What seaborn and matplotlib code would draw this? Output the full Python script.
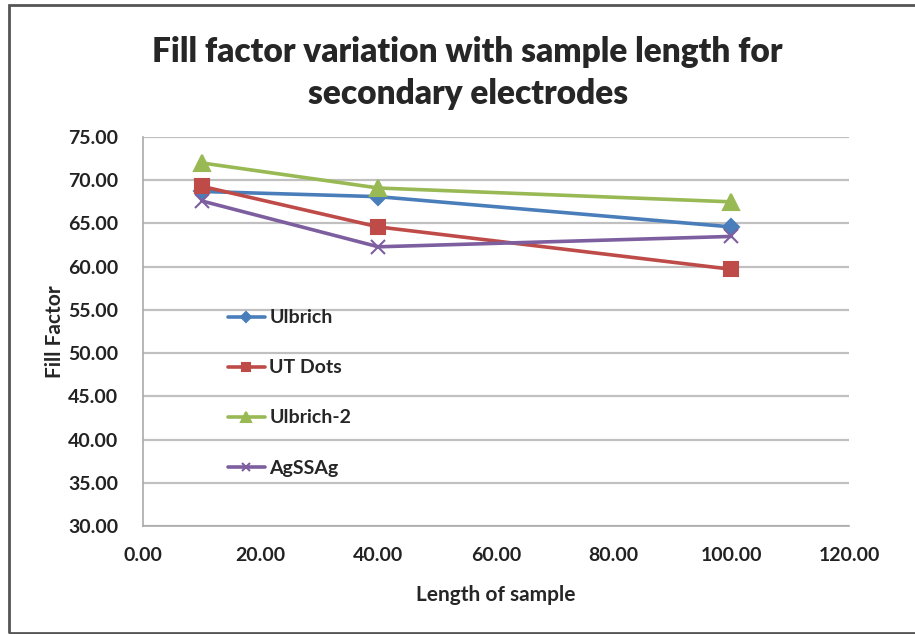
import numpy as np
import pandas as pd
import matplotlib
matplotlib.use('Agg')
import matplotlib.pyplot as plt
import seaborn as sns
from matplotlib.patches import Rectangle

# 데이터
lengths = [10, 40, 100]
ulbrich = [68.7, 68.1, 64.6]
ut_dots = [69.3, 64.6, 59.7]
ulbrich2 = [72.0, 69.1, 67.5]
agssag = [67.6, 62.3, 63.5]
series_names = ['Ulbrich', 'UT Dots', 'Ulbrich-2', 'AgSSAg']
x_ticks = [0, 20, 40, 60, 80, 100, 120]
y_ticks = [30, 35, 40, 45, 50, 55, 60, 65, 70, 75]

df = pd.DataFrame({
    'length': lengths * 4,
    'ff': ulbrich + ut_dots + ulbrich2 + agssag,
    'series': [n for n in series_names for _ in lengths],
})

sns.set_style('white')
plt.rcParams['font.family'] = ['Lato', 'DejaVu Sans']
plt.rcParams['font.weight'] = 'bold'

palette = {'Ulbrich': '#4a7ebb', 'UT Dots': '#be4b48', 'Ulbrich-2': '#98b954', 'AgSSAg': '#7d5fa0'}
markers = {'Ulbrich': 'D', 'UT Dots': 's', 'Ulbrich-2': '^', 'AgSSAg': 'x'}
msizes = {'Ulbrich': 8, 'UT Dots': 10, 'Ulbrich-2': 11, 'AgSSAg': 10}

fig = plt.figure(figsize=(9.15, 6.34), dpi=100)
ax = fig.add_axes([0.1563, 0.1703, 0.7716, 0.6136])

for name in series_names:
    sub = df[df['series'] == name]
    sns.lineplot(data=sub, x='length', y='ff', ax=ax, color=palette[name],
                 marker=markers[name], markersize=msizes[name], linewidth=2.6,
                 markeredgewidth=1.5, markeredgecolor=palette[name], label=name)

ax.set_xlim(0, 120)
ax.set_ylim(30, 75)
ax.set_xticks(x_ticks)
ax.set_yticks(y_ticks)
ax.set_xticklabels([f'{v:.2f}' for v in x_ticks], fontsize=14, fontweight='bold', color='#222222')
ax.set_yticklabels([f'{v:.2f}' for v in y_ticks], fontsize=14, fontweight='bold', color='#222222')
ax.yaxis.grid(True, color='#c0c0c0', linewidth=1.6)
ax.set_axisbelow(True)
for s in ['top', 'right']:
    ax.spines[s].set_visible(False)
for s in ['left', 'bottom']:
    ax.spines[s].set_color('#aaaaaa')
    ax.spines[s].set_linewidth(1.2)
ax.tick_params(axis='both', length=6, width=1.2, color='#aaaaaa')
ax.tick_params(axis='y', pad=12)
ax.tick_params(axis='x', pad=9)

ax.set_xlabel('Length of sample', fontsize=15, fontweight='bold', labelpad=15)
ax.set_ylabel('Fill Factor', fontsize=15, fontweight='bold', labelpad=2)

fig.text(0.511, 0.918, 'Fill factor variation with sample length for', ha='center', va='center',
         fontsize=24, fontweight='heavy')
fig.text(0.511, 0.852, 'secondary electrodes', ha='center', va='center',
         fontsize=24, fontweight='heavy')

leg = ax.legend(loc='upper left', bbox_to_anchor=(0.095, 0.602), frameon=False,
                fontsize=14, labelspacing=1.7, handlelength=1.9, handletextpad=0.25,
                markerscale=0.6)

# 바깥 테두리
fig.patches.append(Rectangle((9 / 915, 1 / 634), 1.2, 1 - 6 / 634, transform=fig.transFigure,
                             fill=False, edgecolor='#555555', linewidth=2))

fig.savefig('out.png', dpi=100)
